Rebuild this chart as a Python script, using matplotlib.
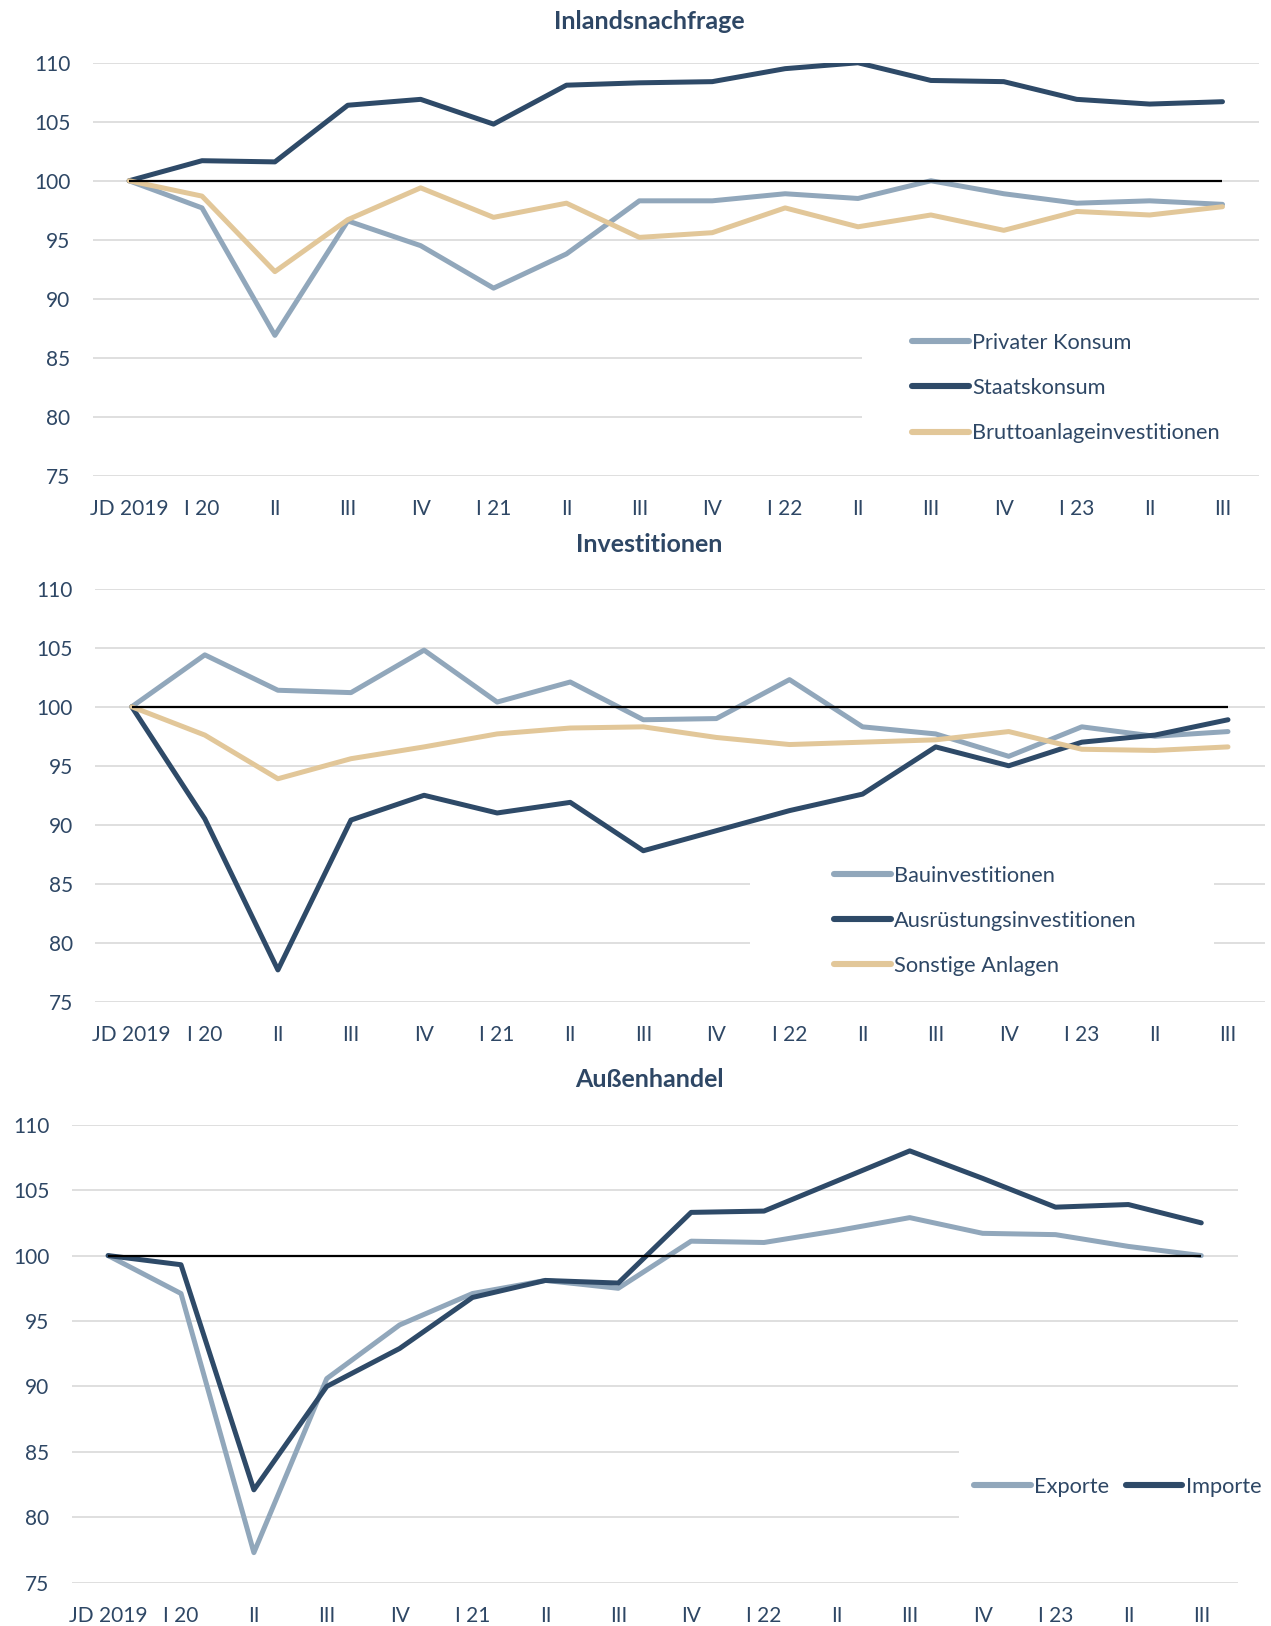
import numpy as np
import matplotlib.pyplot as plt
from matplotlib.patches import Rectangle

plt.rcParams['font.family'] = ['Lato', 'DejaVu Sans']

# Quartale (Index JD 2019 = 100)
quartale = ["JD 2019", "I 20", "II", "III", "IV", "I 21", "II", "III",
            "IV", "I 22", "II", "III", "IV", "I 23", "II", "III"]

# Inlandsnachfrage
privater_konsum = [100.0, 97.7, 86.9, 96.6, 94.5, 90.9, 93.8, 98.3,
                   98.3, 98.9, 98.5, 100.0, 98.9, 98.1, 98.3, 98.0]
staatskonsum = [100.0, 101.7, 101.6, 106.4, 106.9, 104.8, 108.1, 108.3,
                108.4, 109.5, 110.0, 108.5, 108.4, 106.9, 106.5, 106.7]
bruttoanlageinvestitionen = [100.0, 98.7, 92.3, 96.7, 99.4, 96.9, 98.1, 95.2,
                             95.6, 97.7, 96.1, 97.1, 95.8, 97.4, 97.1, 97.8]

# Investitionen
bauinvestitionen = [100.0, 104.4, 101.4, 101.2, 104.8, 100.4, 102.1, 98.9,
                    99.0, 102.3, 98.3, 97.7, 95.8, 98.3, 97.5, 97.9]
ausruestungsinvestitionen = [100.0, 90.5, 77.7, 90.4, 92.5, 91.0, 91.9, 87.8,
                             89.5, 91.2, 92.6, 96.6, 95.0, 97.0, 97.6, 98.9]
sonstige_anlagen = [100.0, 97.6, 93.9, 95.6, 96.6, 97.7, 98.2, 98.3,
                    97.4, 96.8, 97.0, 97.2, 97.9, 96.4, 96.3, 96.6]

# Außenhandel
exporte = [100.0, 97.1, 77.3, 90.6, 94.7, 97.1, 98.1, 97.5,
           101.1, 101.0, 101.9, 102.9, 101.7, 101.6, 100.7, 100.0]
importe = [100.0, 99.3, 82.1, 90.0, 92.9, 96.8, 98.1, 97.9,
           103.3, 103.4, 105.7, 108.0, 105.9, 103.7, 103.9, 102.5]

basis = 100
y_ticks = [75, 80, 85, 90, 95, 100, 105, 110]

# Farben
hell = '#91A7BB'
dunkel = '#2E4A68'
sand = '#E2C799'
text_farbe = '#2E4765'
gitter = '#D9D9D9'

fig = plt.figure(figsize=(12.71, 16.26), dpi=100)


def zeichne_panel(rect, titel, titel_y, reihen, legende_pos, ncol, box_x):
    ax = fig.add_axes(rect)
    x = np.arange(len(quartale))

    for werte, name, farbe in reihen:
        ax.plot(x, werte, color=farbe, lw=3.6, label=name, zorder=2,
                solid_capstyle='round', solid_joinstyle='round')

    # schwarze Linie bei 100
    ax.hlines(basis, x[0], x[-1], color='black', lw=1.6, zorder=3)

    ax.set_xlim(-0.5, len(quartale) - 0.5)
    ax.set_ylim(y_ticks[0], y_ticks[-1])
    ax.set_yticks(y_ticks)
    ax.set_xticks(x, quartale)
    ax.grid(axis='y', color=gitter, lw=1.2, zorder=0.5)
    ax.set_axisbelow(True)
    for s in ax.spines.values():
        s.set_visible(False)
    ax.tick_params(axis='y', length=0, pad=16, labelsize=15, labelcolor=text_farbe)
    ax.tick_params(axis='x', length=0, pad=17, labelsize=15, labelcolor=text_farbe)

    # weißer Hintergrund der Legende verdeckt Gitterlinien
    ax.add_patch(Rectangle((box_x[0], 0.07), box_x[1] - box_x[0], 0.29,
                           transform=ax.transAxes, facecolor='white',
                           edgecolor='none', zorder=1, clip_on=False))

    leg = ax.legend(loc='center left', bbox_to_anchor=legende_pos, ncol=ncol,
                    frameon=False, fontsize=15.7, handlelength=2.6,
                    handletextpad=0.15, labelspacing=1.15, columnspacing=0.75,
                    borderpad=0, borderaxespad=0)
    for t in leg.get_texts():
        t.set_color(text_farbe)
    for h in leg.legend_handles:
        h.set_linewidth(4.4)
        h.set_solid_capstyle('round')

    fig.text(0.511, titel_y, titel, ha='center', va='center', fontsize=18,
             fontweight='bold', color=text_farbe)
    return ax


zeichne_panel([0.0729, 0.7074, 0.9176, 0.2540], "Inlandsnachfrage", 0.987,
              [(privater_konsum, "Privater Konsum", hell),
               (staatskonsum, "Staatskonsum", dunkel),
               (bruttoanlageinvestitionen, "Bruttoanlageinvestitionen", sand)],
              (0.7025, 0.2123), 1, (0.66, 1.05))

zeichne_panel([0.0749, 0.3839, 0.9200, 0.2540], "Investitionen", 0.6654,
              [(bauinvestitionen, "Bauinvestitionen", hell),
               (ausruestungsinvestitionen, "Ausrüstungsinvestitionen", dunkel),
               (sonstige_anlagen, "Sonstige Anlagen", sand)],
              (0.632, 0.196), 1, (0.56, 0.957))

zeichne_panel([0.0564, 0.0266, 0.9174, 0.2817], "Außenhandel", 0.3363,
              [(exporte, "Exporte", hell),
               (importe, "Importe", dunkel)],
              (0.774, 0.21), 2, (0.761, 1.05))

fig.savefig("out.png", dpi=100, facecolor='white')
